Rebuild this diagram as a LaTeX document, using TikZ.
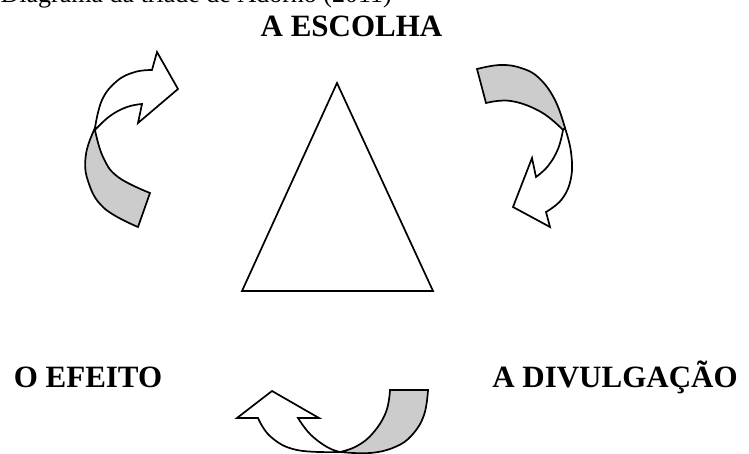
\documentclass[tikz,border=0pt]{standalone}
\usepackage{fontspec}
\setmainfont{Liberation Serif}
\definecolor{shade}{HTML}{CCCCCC}
\begin{document}
\begin{tikzpicture}[x=1pt,y=-1pt,
  outl/.style={draw=black,line width=1.7pt,line join=miter},
  back/.style={outl,fill=shade},
  front/.style={outl,fill=white},
  lab/.style={anchor=base,inner sep=0pt,font=\fontsize{31}{36}\selectfont\bfseries},
  captext/.style={anchor=base west,inner sep=0pt,font=\fontsize{26}{30}\selectfont}]
\useasboundingbox (0,0) rectangle (749,454);

% caption and labels
\node[captext] (caption) at (0.5,3) {Diagrama da tríade de Adorno (2011)};
\node[lab] (escolha) at (351.5,36.5) {A ESCOLHA};
\node[lab] (divulg) at (615,387) {A DIVULGAÇÃO};
\node[lab] (efeito) at (88,387) {O EFEITO};

% triangle
\draw[outl] (337,83) -- (433,291) -- (242,291) -- cycle;

% top-left curved arrow
\path[back] (95,128) -- plot[smooth,tension=0.7] coordinates {(95,128) (86,154) (88,181) (104,208) (138,227)}
  -- (150,193) -- plot[smooth,tension=0.7] coordinates {(150,193) (118,177) (103,157) (95,130)} -- cycle;
\path[front] (95,128) -- plot[smooth,tension=0.7] coordinates {(95,128) (102,100) (117,81) (135,72) (152,70)}
  -- (157,52) -- (178,89) -- (138,123) -- (142,104)
  -- plot[smooth,tension=0.7] coordinates {(142,104) (127,107) (110,116) (95,130)} -- cycle;

% right curved arrow
\path[back] (477,69) -- plot[smooth,tension=0.7] coordinates {(477,69) (500,65) (521,68) (539,78) (555,100) (565,128)}
  -- plot[smooth,tension=0.7] coordinates {(563,130) (541,112) (511,101) (486,103)} -- cycle;
\path[front] (565,128) -- plot[smooth,tension=0.7] coordinates {(565,128) (571,152) (571,178) (562,199) (546,212)}
  -- (550,227) -- (513,207) -- (532,158) -- (536,177)
  -- plot[smooth,tension=0.7] coordinates {(536,177) (548,166) (558,149) (563,130)} -- cycle;

% bottom curved arrow
\path[back] (340,452) -- plot[smooth,tension=0.7] coordinates {(340,452) (370,453) (395,447) (412,435) (424,415) (428,390)}
  -- (390,390) -- plot[smooth,tension=0.7] coordinates {(390,390) (386,412) (373,433) (357,446) (340,452)} -- cycle;
\path[front] (340,452) -- plot[smooth,tension=0.7] coordinates {(340,452) (297,450) (271,437) (258,418)}
  -- (237,418) -- (272,391) -- (319,418) -- (298,418)
  -- plot[smooth,tension=0.7] coordinates {(298,418) (310,434) (327,447) (340,452)} -- cycle;
\end{tikzpicture}
\end{document}
